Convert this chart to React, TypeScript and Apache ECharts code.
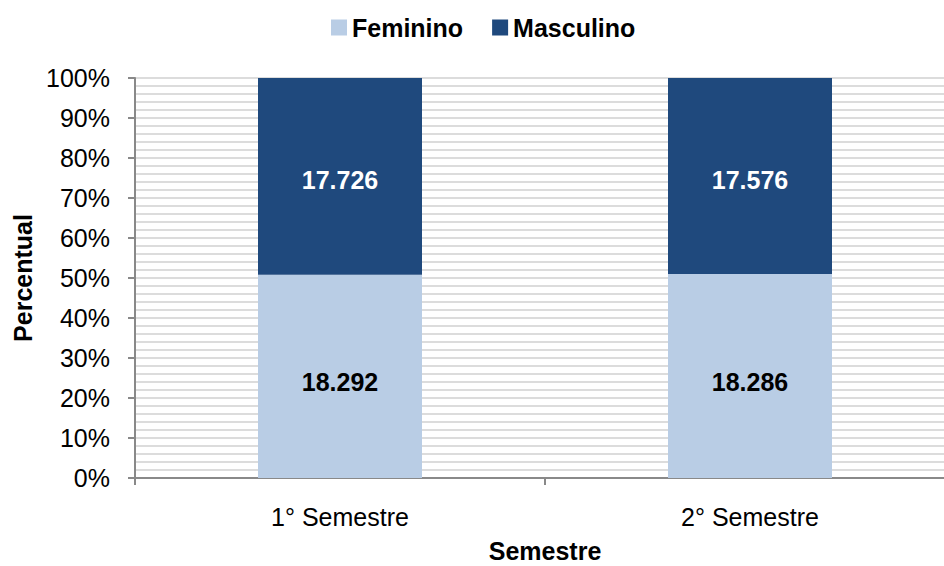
import React, { useEffect, useRef } from "react";
import * as echarts from "echarts";

const categories = ["1° Semestre", "2° Semestre"];
const feminino = [18292, 18286];
const masculino = [17726, 17576];
const yTicks = [0, 10, 20, 30, 40, 50, 60, 70, 80, 90, 100];

const FONT = "'Liberation Sans', Arial, sans-serif";
const fmt = (v: number) => v.toLocaleString("de-DE");

export default function App() {
  const ref = useRef<HTMLDivElement>(null);
  useEffect(() => {
    if (!ref.current) return;
    const chart = echarts.init(ref.current, undefined, { renderer: "svg" });
    const totals = feminino.map((f, i) => f + masculino[i]);
    const femPct = feminino.map((v, i) => ({ value: (v / totals[i]) * 100, raw: v }));
    const mascPct = masculino.map((v, i) => ({ value: (v / totals[i]) * 100, raw: v }));
    chart.setOption({
      animation: false,
      backgroundColor: "#ffffff",
      textStyle: { fontFamily: FONT },
      legend: {
        left: 326,
        top: 10,
        itemWidth: 16,
        itemHeight: 16,
        itemGap: 29,
        icon: "rect",
        textStyle: { fontFamily: FONT, fontSize: 25, fontWeight: "bold", color: "#000" },
        data: ["Feminino", "Masculino"],
      },
      grid: {
        left: 135,
        right: -11,
        top: 78,
        bottom: 88,
        containLabel: false,
        outerBoundsMode: "none",
      },
      xAxis: {
        type: "category",
        data: categories,
        name: "Semestre",
        nameLocation: "middle",
        nameGap: 60,
        nameTextStyle: { fontFamily: FONT, fontSize: 25, fontWeight: "bold", color: "#000" },
        axisLine: { lineStyle: { color: "#898989", width: 2 } },
        axisTick: { show: true, length: 7, lineStyle: { color: "#898989", width: 2 } },
        axisLabel: { fontFamily: FONT, fontSize: 25, color: "#000", margin: 26 },
      },
      yAxis: {
        type: "value",
        min: yTicks[0],
        max: yTicks[yTicks.length - 1],
        interval: 10,
        name: "Percentual",
        nameLocation: "middle",
        nameGap: 99,
        nameTextStyle: { fontFamily: FONT, fontSize: 25, fontWeight: "bold", color: "#000" },
        axisLine: { show: true, lineStyle: { color: "#898989", width: 2 } },
        axisTick: { show: true, length: 7, lineStyle: { color: "#898989", width: 2 } },
        axisLabel: {
          fontFamily: FONT,
          fontSize: 25,
          color: "#000",
          margin: 25,
          formatter: (v: number) => `${Math.round(v)}%`,
        },
        splitLine: { show: true, lineStyle: { color: "#dcdcdc", width: 2 } },
        minorTick: { show: false, splitNumber: 5 },
        minorSplitLine: { show: true, lineStyle: { color: "#dcdcdc", width: 2 } },
      },
      series: [
        {
          name: "Feminino",
          type: "bar",
          stack: "total",
          barWidth: "40%",
          itemStyle: { color: "#b9cde5" },
          label: {
            show: true,
            position: "inside",
            offset: [0, 6],
            fontFamily: FONT,
            fontSize: 25,
            fontWeight: "bold",
            color: "#000",
            formatter: (p: any) => fmt(p.data.raw),
          },
          data: femPct,
        },
        {
          name: "Masculino",
          type: "bar",
          stack: "total",
          barWidth: "40%",
          itemStyle: { color: "#1f497d" },
          label: {
            show: true,
            position: "inside",
            offset: [0, 4],
            fontFamily: FONT,
            fontSize: 25,
            fontWeight: "bold",
            color: "#fff",
            formatter: (p: any) => fmt(p.data.raw),
          },
          data: mascPct,
        },
      ],
    });
    return () => chart.dispose();
  }, []);
  return (
    <div
      ref={ref}
      style={{ position: "fixed", left: 0, top: 0, width: 944, height: 566, background: "#fff" }}
    />
  );
}
